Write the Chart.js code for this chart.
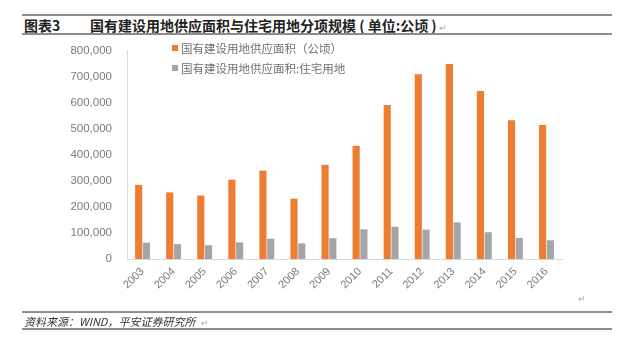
<!DOCTYPE html>
<html>
<head>
<meta charset="utf-8">
<script src="https://cdn.jsdelivr.net/npm/chart.js@4.4.1/dist/chart.umd.min.js"></script>
<style>
  body { margin: 0; background: #fff; width: 620px; height: 340px; position: relative; overflow: hidden;
         font-family: "Noto Sans CJK SC", "Liberation Sans", sans-serif; }
  .rule { position: absolute; left: 22px; width: 590px; height: 2px; background: #8c8c8c; }
  #title { position: absolute; left: 24px; top: 15px; font-size: 14px; font-weight: bold; color: #222; white-space: nowrap; }
  #title .num { display: inline-block; width: 66px; }
  .ret { color: #aaa; font-weight: normal; font-size: 9px; margin-left: 2px; }
  #source { position: absolute; left: 24px; top: 313px; font-size: 11px; font-style: italic; color: #333; white-space: nowrap; }
  #box { position: absolute; left: 0; top: 29px; width: 600px; height: 283px; }
  #legend { position: absolute; left: 172px; top: 38px; font-size: 11.5px; color: #707070; line-height: 20px; }
  #legend span.sw { display: inline-block; width: 6px; height: 6px; margin-right: 3px; vertical-align: 2px; }
  .mark { position: absolute; color: #aaa; font-size: 9px; }
</style>
</head>
<body>
<div class="rule" style="top:14px"></div>
<div id="title"><span class="num">图表3</span>国有建设用地供应面积与住宅用地分项规模 ( 单位:公顷 )<span class="ret">↵</span></div>
<div class="rule" style="top:33px"></div>

<div id="box"><canvas id="myChart"></canvas></div>
<div id="legend"></div>
<div class="mark" style="left:578px; top:292px">↵</div>

<div class="rule" style="top:311px"></div>
<div id="source">资料来源：WIND，平安证券研究所 <span class="ret">↵</span></div>
<div class="rule" style="top:328px"></div>

<script>
// 年份
const years = ['2003', '2004', '2005', '2006', '2007', '2008', '2009',
               '2010', '2011', '2012', '2013', '2014', '2015', '2016'];

// 国有建设用地供应面积（公顷）
const landSupply = [285000, 256000, 244000, 305000, 340000, 232000, 362000,
                    435000, 592000, 710000, 750000, 646000, 533000, 515000];

// 其中：住宅用地
const residentialLand = [63000, 57000, 53000, 64000, 78000, 60000, 80000,
                         114000, 124000, 113000, 141000, 103000, 81000, 72000];

const seriesNames = ['国有建设用地供应面积（公顷）', '国有建设用地供应面积:住宅用地'];
const seriesColors = ['#ED7D31', '#A5A5A5'];

const yMax = 800000;
const yStep = 100000;

const ctx = document.getElementById('myChart').getContext('2d');

const chart = new Chart(ctx, {
  type: 'bar',
  data: {
    labels: years,
    datasets: [
      { label: seriesNames[0], data: landSupply, backgroundColor: seriesColors[0] },
      { label: seriesNames[1], data: residentialLand, backgroundColor: seriesColors[1] }
    ]
  },
  options: {
    responsive: true,
    maintainAspectRatio: false,
    animation: false,
    layout: { padding: { top: 5, right: 38, left: 0, bottom: 0 } },
    datasets: {
      bar: { categoryPercentage: 0.5, barPercentage: 0.92 }
    },
    plugins: {
      legend: { display: false },
      tooltip: { enabled: false }
    },
    scales: {
      x: {
        grid: { display: false, drawTicks: false },
        border: { color: '#d9d9d9', width: 1 },
        ticks: {
          color: '#7a7a7a',
          font: { family: 'Liberation Sans', size: 11 },
          maxRotation: 45,
          minRotation: 45,
          padding: 6
        },
        afterFit: s => { s.height = 53; }
      },
      y: {
        min: 0,
        max: yMax,
        grid: { display: false, drawTicks: false },
        border: { color: '#d9d9d9', width: 1 },
        ticks: {
          stepSize: yStep,
          color: '#7a7a7a',
          font: { family: 'Liberation Sans', size: 11.5 },
          padding: 15,
          callback: v => v.toLocaleString('en-US')
        },
        afterFit: s => { s.width = 127; }
      }
    }
  }
});

// 图例（左上角竖排）
const legend = document.getElementById('legend');
chart.data.datasets.forEach(ds => {
  const row = document.createElement('div');
  row.innerHTML = '<span class="sw" style="background:' + ds.backgroundColor + '"></span>' + ds.label;
  legend.appendChild(row);
});
</script>
</body>
</html>
